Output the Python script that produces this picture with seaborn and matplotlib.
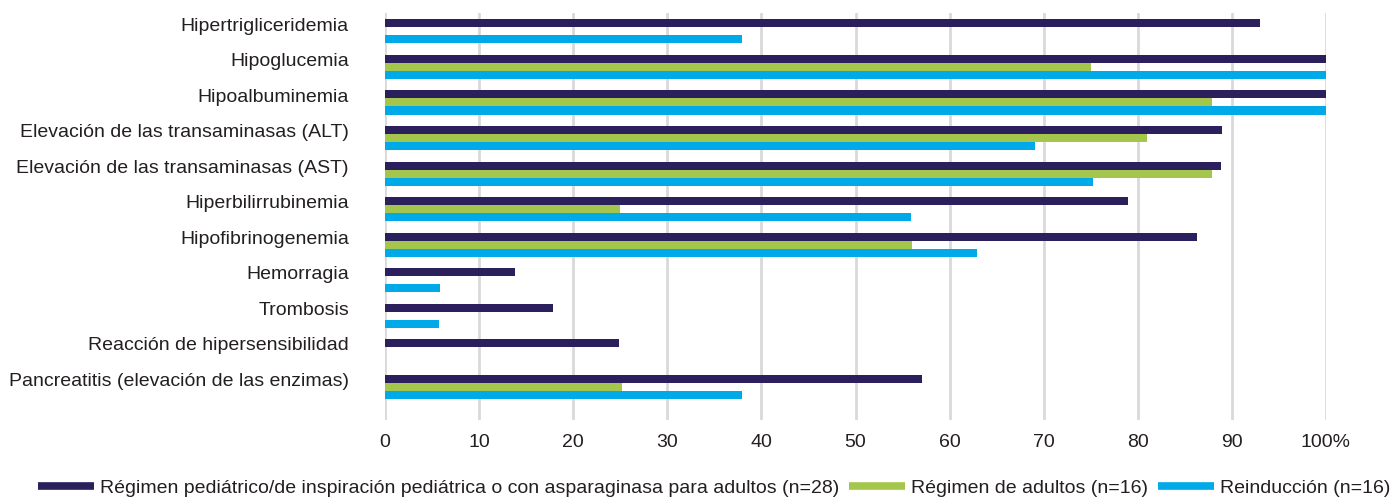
import pandas as pd
import numpy as np

import matplotlib.pyplot as plt
import seaborn as sns

categorias = ['Hipertrigliceridemia', 'Hipoglucemia', 'Hipoalbuminemia',
              'Elevación de las transaminasas (ALT)',
              'Elevación de las transaminasas (AST)',
              'Hiperbilirrubinemia', 'Hipofibrinogenemia', 'Hemorragia',
              'Trombosis', 'Reacción de hipersensibilidad',
              'Pancreatitis (elevación de las enzimas)']

series = ['Régimen pediátrico/de inspiración pediátrica o con asparaginasa para adultos (n=28)',
          'Régimen de adultos (n=16)',
          'Reinducción (n=16)']

pediatrico = [93, 100, 100, 89, 88.8, 79, 86.3, 13.8, 17.9, 24.9, 57.1]
adultos = [0, 75, 87.9, 81, 87.9, 25, 56, 0, 0, 0, 25.2]
reinduccion = [37.9, 100, 100, 69.1, 75.2, 55.9, 62.9, 5.8, 5.7, 0, 37.9]

x_ticks = [0, 10, 20, 30, 40, 50, 60, 70, 80, 90, 100]
x_labels = ['0', '10', '20', '30', '40', '50', '60', '70', '80', '90', '100%']

colores = ['#2b1f5c', '#a5c64c', '#00aae9']

df = pd.DataFrame({
    'categoria': categorias * 3,
    'serie': [series[0]] * 11 + [series[1]] * 11 + [series[2]] * 11,
    'valor': pediatrico + adultos + reinduccion,
})

sns.set_style('white')
plt.rcParams['font.family'] = ['Liberation Sans', 'DejaVu Sans']
color_texto = '#231f20'

fig = plt.figure(figsize=(13.97, 5), dpi=100)
ax = fig.add_axes([385 / 1397, 1 - 420 / 500, (1326 - 385) / 1397, (420 - 13) / 500])

sns.barplot(data=df, y='categoria', x='valor', hue='serie', order=categorias,
            hue_order=series, palette=colores, orient='h', width=0.676,
            saturation=1, errorbar=None, ax=ax, legend=False, linewidth=0)

ax.set_xlim(0, 100)
ax.set_ylim(10.94, -0.52)
ax.set_xticks(x_ticks, x_labels)
ax.set_yticks(np.arange(len(categorias)) - 0.2, categorias)
ax.tick_params(axis='y', length=0, pad=26, labelsize=14, labelcolor=color_texto)
ax.tick_params(axis='x', length=0, pad=10, labelsize=14, labelcolor=color_texto)
ax.set_xlabel('')
ax.set_ylabel('')
ax.grid(axis='x', color='#d9d9d9', linewidth=2)
ax.set_axisbelow(True)
sns.despine(ax=ax, left=True, bottom=True)

handles = [plt.Line2D([0], [0], color=c, linewidth=5.5, solid_capstyle='butt')
           for c in colores]
fig.legend(handles, series, loc='center', bbox_to_anchor=(714 / 1397, 1 - 488 / 500),
           ncol=3, frameon=False, fontsize=14, handlelength=2.9, handletextpad=0.3,
           columnspacing=0.5, labelcolor=color_texto)

fig.savefig('out.png', dpi=100)
